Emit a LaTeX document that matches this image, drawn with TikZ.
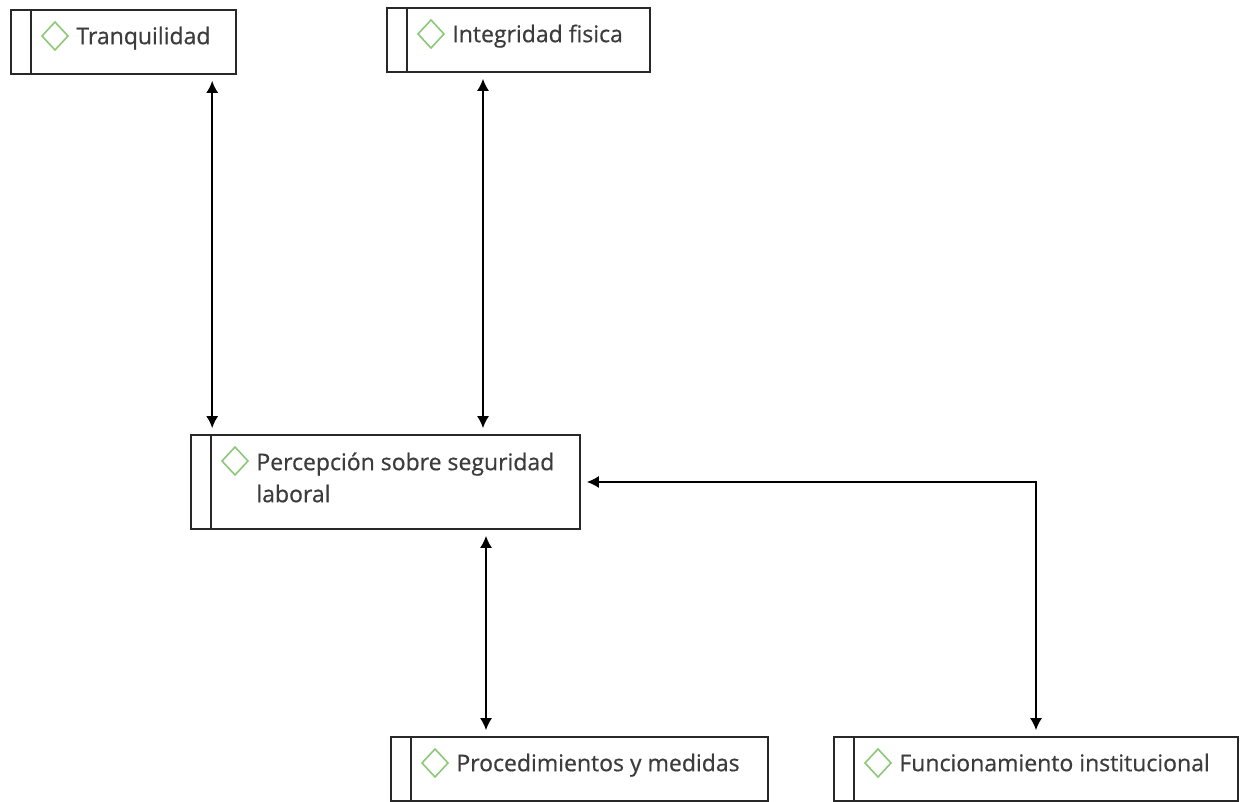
\documentclass[tikz,border=0pt]{standalone}
\usepackage{fontspec}
\setmainfont{Open Sans}
\newfontfamily\labelfont{Open Sans}[FakeBold=0.6]
\usetikzlibrary{arrows.meta,positioning}
\definecolor{icongreen}{RGB}{140,200,120}
\definecolor{boxline}{RGB}{40,40,40}
\definecolor{labeltext}{RGB}{60,60,60}

\begin{document}
\begin{tikzpicture}
                [
                    x=1pt, y=1pt,
                    conceptbox/.style={rectangle, draw=boxline, line width=1.6pt, minimum height=64pt, inner sep=0pt,
                        path picture={
                            \draw[boxline, line width=1.6pt] ([xshift=20pt]path picture bounding box.north west) -- ([xshift=20pt]path picture bounding box.south west);
                            \draw[icongreen, line width=1.6pt] ([shift={(31pt,-26pt)}]path picture bounding box.north west) -- ++(13pt,14pt) -- ++(13pt,-14pt) -- ++(-13pt,-14pt) -- cycle;
                        }},
                    conceptlabel/.style={anchor=base west, inner sep=0pt, text=labeltext, font=\labelfont\fontsize{23}{32}\selectfont, align=left},
                    link/.style={{Latex[length=12pt,width=12pt]}-{Latex[length=12pt,width=12pt]}, line width=1.8pt, shorten <=6pt, shorten >=6pt}
                ]
                \useasboundingbox (0,0) rectangle (1241,802);

                \node [conceptbox, minimum width=225pt] (tranq) at (123.5,760) {};
                \node [conceptbox, minimum width=263pt] (integ) at (518.5,762) {};
                \node [conceptbox, minimum width=389pt, minimum height=94pt] (percep) at (385.5,320) {};
                \node [conceptbox, minimum width=377pt] (proced) at (579.5,33) {};
                \node [conceptbox, minimum width=404pt] (func) at (1036,33) {};

                % base of a two-line label is its last line
                \node [conceptlabel] (tranqtxt) at ([shift={(66pt,-35pt)}]tranq.north west) {Tranquilidad};
                \node [conceptlabel] (integtxt) at ([shift={(66pt,-35pt)}]integ.north west) {Integridad fisica};
                \node [conceptlabel] (perceptxt) at ([shift={(66pt,-68pt)}]percep.north west) {Percepción sobre seguridad\\laboral};
                \node [conceptlabel] (procedtxt) at ([shift={(66pt,-35pt)}]proced.north west) {Procedimientos y medidas};
                \node [conceptlabel] (functxt) at ([shift={(66pt,-35pt)}]func.north west) {Funcionamiento institucional};

                \coordinate (tranqdrop) at ([xshift=22pt]percep.north west);
                \coordinate (integdrop) at ([xshift=-35.5pt]integ.south);
                \coordinate (procrise) at ([xshift=-93.5pt]proced.north);

                \draw [link] (tranq.south -| tranqdrop) -- (tranqdrop);
                \draw [link] (integdrop) -- (integdrop |- percep.north);
                \draw [link] (procrise |- percep.south) -- (procrise);
                \draw [link] (func.north) |- (percep.east);

\end{tikzpicture}
\end{document}
